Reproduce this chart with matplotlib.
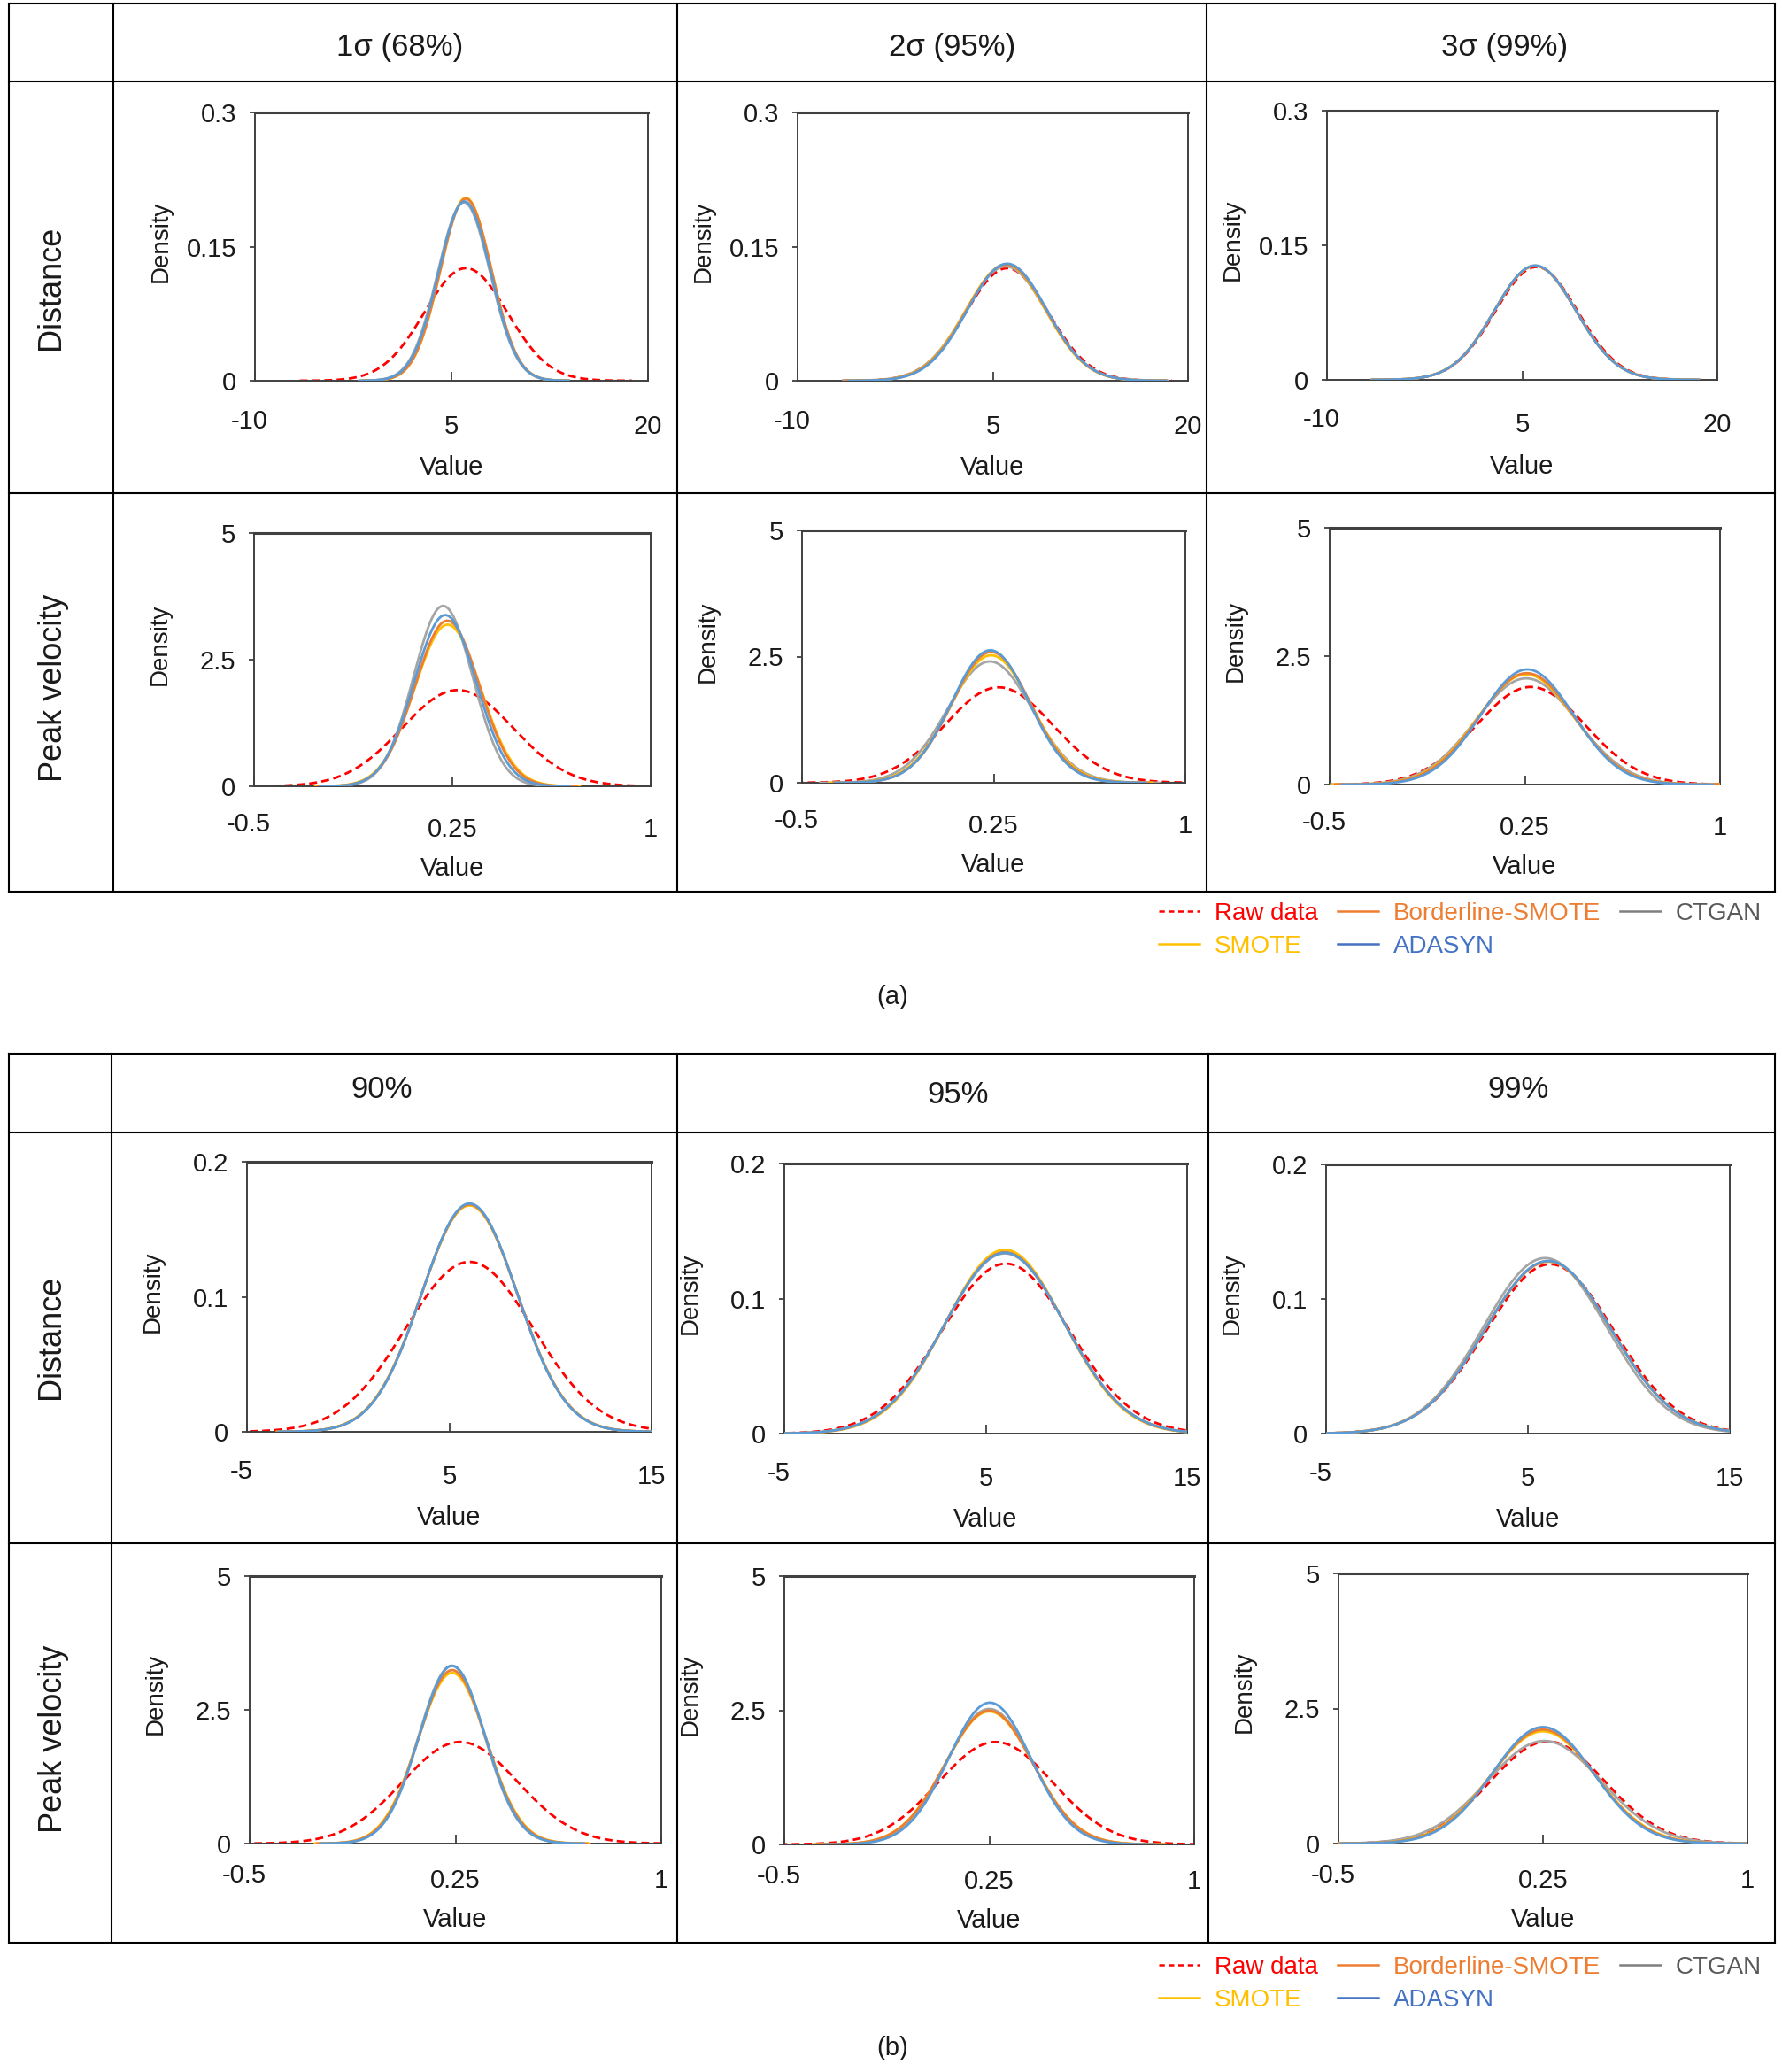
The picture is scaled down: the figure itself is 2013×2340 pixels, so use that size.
import numpy as np
import matplotlib
matplotlib.use("Agg")
import matplotlib.pyplot as plt
from matplotlib.lines import Line2D
from matplotlib.transforms import ScaledTranslation

plt.rcParams['font.family'] = ['Liberation Sans', 'DejaVu Sans']

W, H = 2013, 2340

# series (order is the legend order)
methods = ["Raw data", "SMOTE", "Borderline-SMOTE", "ADASYN", "CTGAN"]
line_colors = ['#FF0000', '#FFC000', '#ED7D31', '#5B9BD5', '#A5A5A5']
legend_colors = ['#FF0000', '#FFC000', '#ED7D31', '#4472C4', '#7F7F7F']
text_colors = ['#FF0000', '#FFC000', '#ED7D31', '#4472C4', '#595959']

headers_a = ["1σ (68%)", "2σ (95%)", "3σ (99%)"]
headers_b = ["90%", "95%", "99%"]
row_names = ["Distance", "Peak velocity"]

# centre and spread of every density curve
# rows = columns of the table, entries follow `methods`
dist_a_mean = [[6.1, 6.1, 6.1, 6.0, 5.95],
               [6.1, 6.0, 6.05, 6.1, 6.0],
               [6.1, 6.0, 6.0, 6.0, 6.0]]
dist_a_sd = [[3.17, 1.95, 1.96, 1.99, 2.0],
             [3.17, 3.07, 3.07, 3.05, 3.12],
             [3.17, 3.14, 3.14, 3.13, 3.14]]
peak_a_mean = [[0.27, 0.232, 0.231, 0.223, 0.215],
               [0.27, 0.24, 0.24, 0.237, 0.235],
               [0.273, 0.255, 0.257, 0.259, 0.255]]
peak_a_sd = [[0.21, 0.125, 0.122, 0.118, 0.112],
             [0.211, 0.158, 0.154, 0.152, 0.166],
             [0.21, 0.186, 0.184, 0.178, 0.193]]

dist_b_mean = [[6.0, 6.0, 6.0, 6.0, 6.0],
               [6.0, 5.95, 5.95, 5.95, 5.95],
               [6.1, 6.0, 6.0, 6.0, 5.85]]
dist_b_sd = [[3.17, 2.38, 2.37, 2.36, 2.37],
             [3.17, 2.93, 2.97, 2.98, 2.99],
             [3.17, 3.12, 3.12, 3.11, 3.06]]
peak_b_mean = [[0.267, 0.238, 0.238, 0.238, 0.236],
               [0.273, 0.25, 0.25, 0.252, 0.25],
               [0.267, 0.25, 0.25, 0.25, 0.255]]
peak_b_sd = [[0.21, 0.125, 0.123, 0.12, 0.12],
             [0.209, 0.161, 0.16, 0.151, 0.158],
             [0.211, 0.192, 0.189, 0.185, 0.21]]

dist_a_ticks = [-10, 5, 20]
dist_b_ticks = [-5, 5, 15]
peak_ticks = [-0.5, 0.25, 1]
dist_a_yticks = [0, 0.15, 0.3]
dist_b_yticks = [0, 0.1, 0.2]
peak_yticks = [0, 2.5, 5]

# axes boxes in pixels: x0, x1, top, bottom
boxes_a = [[(288, 732, 127, 430), (901, 1342, 127, 430), (1499, 1940, 125, 429)],
           [(287, 735, 602, 888), (906, 1339, 599, 884), (1502, 1943, 596, 886)]]
boxes_b = [[(279, 736, 1312, 1617), (886, 1341, 1314, 1619), (1498, 1954, 1315, 1619)],
           [(282, 747, 1780, 2082), (886, 1349, 1780, 2083), (1512, 1974, 1777, 2082)]]

draw_order = [0, 4, 1, 2, 3]


def fx(x):
    return x / W


def fy(y):
    return 1 - y / H


def tick_str(v):
    return ('%g' % v)


fig = plt.figure(figsize=(W / 100, H / 100), dpi=100)


def panel(box, means, sds, xticks, yticks, ylab_y, xpad, xlab_off):
    x0, x1, t, b = box
    ax = fig.add_axes([fx(x0), fy(b), (x1 - x0) / W, (b - t) / H])
    for i in draw_order:
        m, s = means[i], sds[i]
        xs = np.linspace(m - 4 * s, m + 4 * s, 400)
        ys = np.exp(-0.5 * ((xs - m) / s) ** 2) / (s * np.sqrt(2 * np.pi))
        if i == 0:
            ax.plot(xs, ys, color=line_colors[i], lw=2.0, dashes=(3.2, 1.8), zorder=2)
        else:
            ax.plot(xs, ys, color=line_colors[i], lw=2.0, zorder=3)
    ax.set_xlim(xticks[0], xticks[-1])
    ax.set_ylim(yticks[0], yticks[-1])
    ax.set_xticks(xticks)
    ax.set_xticklabels([tick_str(v) for v in xticks])
    ax.set_yticks(yticks)
    ax.set_yticklabels([tick_str(v) for v in yticks])
    ax.tick_params(axis='x', direction='in', length=7, width=1.3, pad=xpad,
                   labelsize=21, color='#404040', labelcolor='#1a1a1a')
    ax.tick_params(axis='y', direction='out', length=4, width=1.3, pad=11,
                   labelsize=21, color='#404040', labelcolor='#1a1a1a')
    for sp in ax.spines.values():
        sp.set_color('#404040')
        sp.set_linewidth(1.4)
    ax.spines['top'].set_linewidth(2.2)
    # first x label sits a little higher and to the left
    lab = ax.get_xticklabels()[0]
    lab.set_transform(lab.get_transform() + ScaledTranslation(-0.06, 0.06, fig.dpi_scale_trans))
    hpx = b - t
    wpx = x1 - x0
    ax.set_xlabel("Value", fontsize=21, color='#1a1a1a')
    ax.xaxis.set_label_coords(0.5, -xlab_off / hpx)
    ax.set_ylabel("Density", fontsize=20, color='#1a1a1a', va='center')
    ax.yaxis.set_label_coords(-106 / wpx, ylab_y)
    return ax


for c in range(3):
    panel(boxes_a[0][c], dist_a_mean[c], dist_a_sd[c], dist_a_ticks, dist_a_yticks, 0.52, 27, 84)
    panel(boxes_a[1][c], peak_a_mean[c], peak_a_sd[c], peak_ticks, peak_yticks, 0.56, 25, 79)
    panel(boxes_b[0][c], dist_b_mean[c], dist_b_sd[c], dist_b_ticks, dist_b_yticks, 0.52, 27, 83)
    panel(boxes_b[1][c], peak_b_mean[c], peak_b_sd[c], peak_ticks, peak_yticks, 0.56, 20, 72)


def hline(y, x0, x1):
    fig.add_artist(Line2D([fx(x0), fx(x1)], [fy(y), fy(y)], transform=fig.transFigure,
                          color='black', lw=1.5))


def vline(x, y0, y1):
    fig.add_artist(Line2D([fx(x), fx(x)], [fy(y0), fy(y1)], transform=fig.transFigure,
                          color='black', lw=1.5))


# table (a)
for y in [4, 92, 557, 1007]:
    hline(y, 10, 2005)
for x in [10, 128, 765, 1363, 2005]:
    vline(x, 4, 1007)
# table (b)
for y in [1190, 1279, 1743, 2194]:
    hline(y, 10, 2005)
for x in [10, 126, 765, 1365, 2005]:
    vline(x, 1190, 2194)

head_a_pos = [(452, 54), (1076, 54), (1700, 54)]
head_b_pos = [(431, 1231), (1082, 1236), (1715, 1231)]
for txt, (x, y) in zip(headers_a, head_a_pos):
    fig.text(fx(x), fy(y), txt, ha='center', va='center', fontsize=25, color='#1a1a1a')
for txt, (x, y) in zip(headers_b, head_b_pos):
    fig.text(fx(x), fy(y), txt, ha='center', va='center', fontsize=25, color='#1a1a1a')

row_pos_a = [(57, 325), (61, 777)]
row_pos_b = [(57, 1510), (61, 1964)]
for txt, (x, y) in zip(row_names, row_pos_a):
    fig.text(fx(x), fy(y), txt, ha='center', va='center', rotation=90, fontsize=26, color='#1a1a1a')
for txt, (x, y) in zip(row_names, row_pos_b):
    fig.text(fx(x), fy(y), txt, ha='center', va='center', rotation=90, fontsize=26, color='#1a1a1a')

fig.text(fx(1008), fy(1126), "(a)", ha='center', va='center', fontsize=21, color='#1a1a1a')
fig.text(fx(1008), fy(2313), "(b)", ha='center', va='center', fontsize=21, color='#1a1a1a')


def add_legend(top):
    handles = []
    for i, name in enumerate(methods):
        if i == 0:
            h = Line2D([], [], color=legend_colors[i], lw=1.8, dashes=(2.5, 1.8))
        else:
            h = Line2D([], [], color=legend_colors[i], lw=1.8)
        handles.append(h)
    leg = fig.legend(handles, methods, loc='upper left', bbox_to_anchor=(fx(1309), fy(top)),
                     ncol=3, frameon=False, fontsize=20, handlelength=1.66,
                     handletextpad=0.6, columnspacing=0.8, labelspacing=0.38,
                     borderpad=0, borderaxespad=0)
    for t, col in zip(leg.get_texts(), text_colors):
        t.set_color(col)


add_legend(1019)
add_legend(2209)

fig.savefig("out.png", dpi=100)
